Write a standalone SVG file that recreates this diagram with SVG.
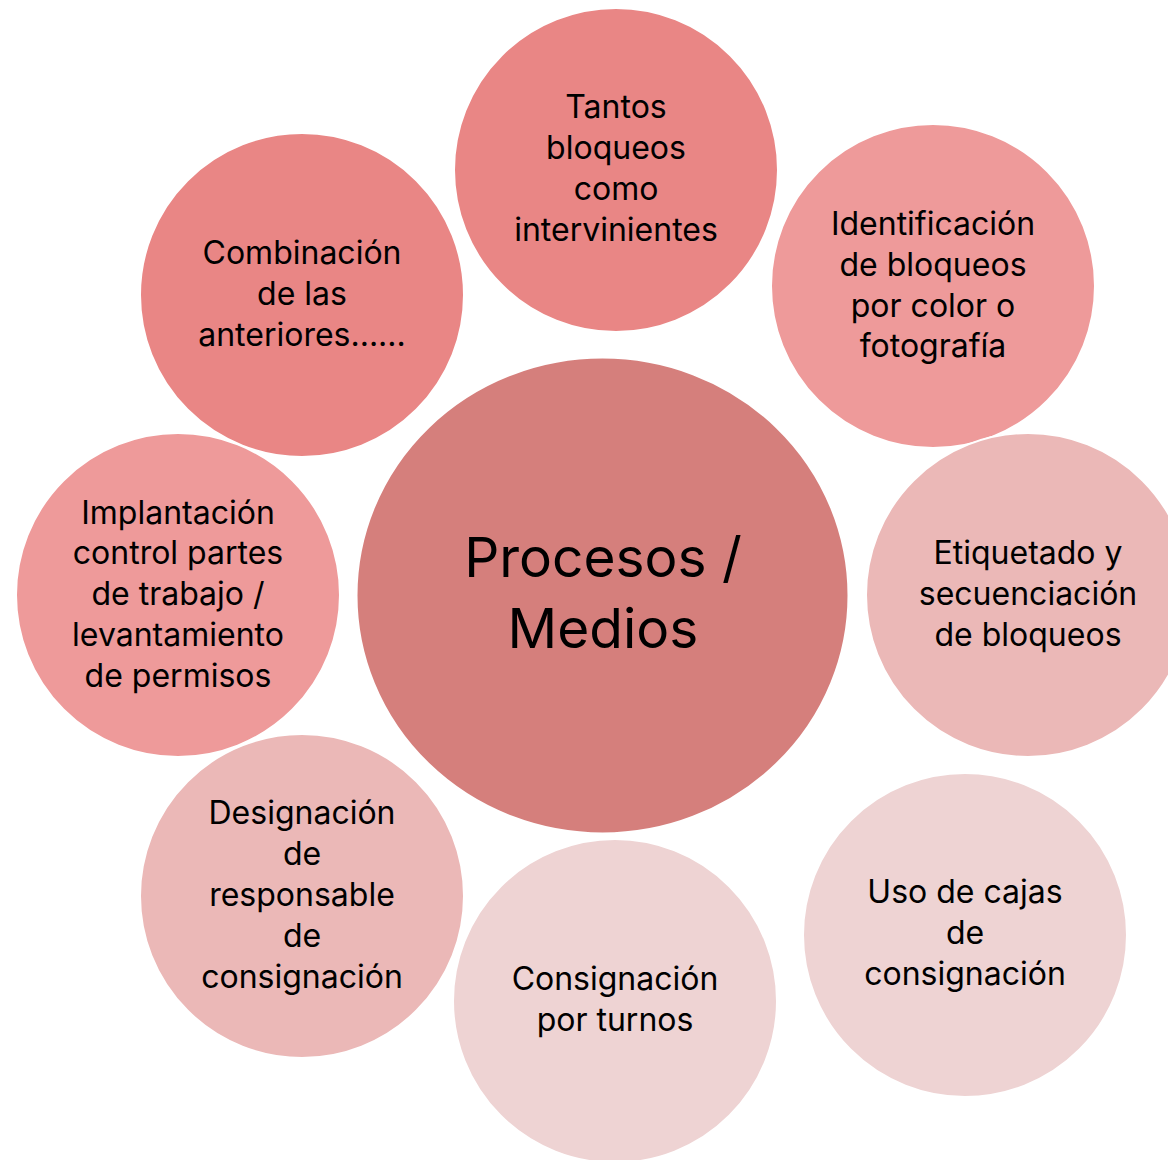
<svg xmlns="http://www.w3.org/2000/svg" width="1168" height="1160" viewBox="0 0 1168 1160">
  <style>
    .c { stroke: #ffffff; stroke-width: 2; }
    .c1 { fill: #E98685; }
    .c2 { fill: #EE9A9A; }
    .c3 { fill: #EBB8B7; }
    .c4 { fill: #EED3D3; }
    .cm { fill: #D57F7C; }
    .t { font-family: Inter, "Open Sans", "Liberation Sans", sans-serif; font-size: 32px; fill: #000000; text-anchor: middle; }
    .tm { font-family: Inter, "Open Sans", "Liberation Sans", sans-serif; font-size: 55px; fill: #000000; text-anchor: middle; }
  </style>
  <rect width="1168" height="1160" fill="#ffffff"/>
  <g id="connectors"></g>
  <g id="center">
    <ellipse class="c cm" cx="602.5" cy="595.5" rx="246" ry="238"/>
    <text class="tm"><tspan x="603" y="577">Procesos /</tspan><tspan x="603" y="648">Medios</tspan></text>
  </g>
  <g id="n1">
    <circle class="c c1" cx="616" cy="170" r="162"/>
    <text class="t"><tspan x="616" y="118">Tantos</tspan><tspan x="616" y="159">bloqueos</tspan><tspan x="616" y="200">como</tspan><tspan x="616" y="241">intervinientes</tspan></text>
  </g>
  <g id="n2">
    <circle class="c c2" cx="933" cy="286" r="162"/>
    <text class="t"><tspan x="933" y="235">Identificación</tspan><tspan x="933" y="276">de bloqueos</tspan><tspan x="933" y="317">por color o</tspan><tspan x="933" y="357">fotografía</tspan></text>
  </g>
  <g id="n3">
    <circle class="c c3" cx="1028" cy="595" r="162"/>
    <text class="t"><tspan x="1028" y="564">Etiquetado y</tspan><tspan x="1028" y="605">secuenciación</tspan><tspan x="1028" y="646">de bloqueos</tspan></text>
  </g>
  <g id="n4">
    <circle class="c c4" cx="965" cy="935" r="162"/>
    <text class="t"><tspan x="965" y="903">Uso de cajas</tspan><tspan x="965" y="944">de</tspan><tspan x="965" y="985">consignación</tspan></text>
  </g>
  <g id="n5">
    <circle class="c c4" cx="615" cy="1001" r="162"/>
    <text class="t"><tspan x="615" y="990">Consignación</tspan><tspan x="615" y="1031">por turnos</tspan></text>
  </g>
  <g id="n6">
    <circle class="c c3" cx="302" cy="896" r="162"/>
    <text class="t"><tspan x="302" y="824">Designación</tspan><tspan x="302" y="865">de</tspan><tspan x="302" y="906">responsable</tspan><tspan x="302" y="947">de</tspan><tspan x="302" y="988">consignación</tspan></text>
  </g>
  <g id="n7">
    <circle class="c c2" cx="178" cy="595" r="162"/>
    <text class="t"><tspan x="178" y="524">Implantación</tspan><tspan x="178" y="564">control partes</tspan><tspan x="178" y="605">de trabajo /</tspan><tspan x="178" y="646">levantamiento</tspan><tspan x="178" y="687">de permisos</tspan></text>
  </g>
  <g id="n8">
    <circle class="c c1" cx="302" cy="295" r="162"/>
    <text class="t"><tspan x="302" y="264">Combinación</tspan><tspan x="302" y="305">de las</tspan><tspan x="302" y="346">anteriores......</tspan></text>
  </g>
</svg>
